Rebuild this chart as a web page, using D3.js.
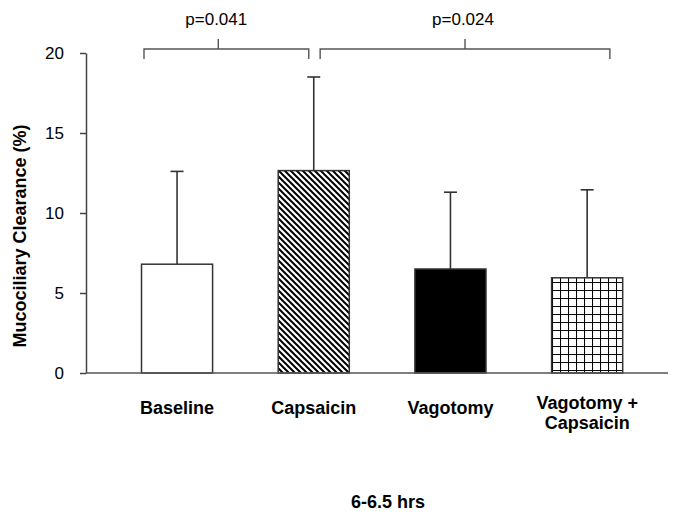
<!DOCTYPE html>
<html>
<head>
<meta charset="utf-8">
<script src="https://cdn.jsdelivr.net/npm/d3@7"></script>
<style>
  html, body { margin: 0; padding: 0; background: #fff; }
  svg { display: block; }
  text { font-family: Arial, "Liberation Sans", Helvetica, sans-serif; fill: #000; }
</style>
</head>
<body>
<svg id="chart" width="678" height="517"></svg>
<script>
// ---- data ----
const categories = ["Baseline", "Capsaicin", "Vagotomy", "Vagotomy + Capsaicin"];
const categoryLines = [["Baseline"], ["Capsaicin"], ["Vagotomy"], ["Vagotomy +", "Capsaicin"]];
const means = [6.8, 12.65, 6.5, 5.95];
const sds = [5.8, 5.85, 4.8, 5.5];
const fills = ["white", "url(#diag)", "black", "url(#grid)"];
const yTicks = [0, 5, 10, 15, 20];
const yLabel = "Mucociliary Clearance (%)";
const xLabel = "6-6.5 hrs";
const brackets = [
  { from: ["Baseline", 0.035], to: ["Capsaicin", 0.43], mid: ["Baseline", 1.08], label: "p=0.041" },
  { from: ["Capsaicin", 0.59], to: ["Vagotomy + Capsaicin", 0.82], mid: null, label: "p=0.024" }
];

// ---- layout ----
const svg = d3.select("#chart");
const axisX = 86, plotRight = 668, yTop = 53, yBottom = 373;

const x = d3.scaleBand().domain(categories).range([108.7, 655.5]).paddingInner(0.48).paddingOuter(0.24);
const y = d3.scaleLinear().domain([0, 20]).range([yBottom, yTop]);

const defs = svg.append("defs");
const diag = defs.append("pattern").attr("id", "diag").attr("patternUnits", "userSpaceOnUse")
  .attr("width", 6).attr("height", 6);
diag.append("rect").attr("width", 6).attr("height", 6).attr("fill", "white");
diag.append("path").attr("d", "M0,0 L6,6 M-1,5 L1,7 M5,-1 L7,1")
  .attr("stroke", "black").attr("stroke-width", 2);

const grid = defs.append("pattern").attr("id", "grid").attr("patternUnits", "userSpaceOnUse")
  .attr("width", 8).attr("height", 8).attr("x", 0).attr("y", 2);
grid.append("rect").attr("width", 8).attr("height", 8).attr("fill", "white");
grid.append("path").attr("d", "M0.5,0 V8 M0,0.5 H8")
  .attr("stroke", "black").attr("stroke-width", 1.1);

// y axis
const yAxis = d3.axisLeft(y).tickValues(yTicks).tickSize(6).tickSizeOuter(0).tickPadding(16);
const ya = svg.append("g").attr("transform", `translate(${axisX},0)`).call(yAxis);
ya.select(".domain").attr("stroke", "#444").attr("stroke-width", 1.5);
ya.selectAll(".tick line").attr("stroke", "#444").attr("stroke-width", 1.5);
ya.selectAll(".tick text").attr("font-size", 17).attr("fill", "#000")
  .attr("font-family", "Arial, 'Liberation Sans', sans-serif");

// bars
const data = categories.map((c, i) => ({ c, m: means[i], sd: sds[i], fill: fills[i] }));

svg.append("g").selectAll("line").data(data).join("line")
  .attr("x1", d => x(d.c) + x.bandwidth() / 2).attr("x2", d => x(d.c) + x.bandwidth() / 2)
  .attr("y1", d => y(d.m)).attr("y2", d => y(d.m + d.sd))
  .attr("stroke", "#333").attr("stroke-width", 1.6);
svg.append("g").selectAll("line").data(data).join("line")
  .attr("x1", d => x(d.c) + x.bandwidth() / 2 - 6.5).attr("x2", d => x(d.c) + x.bandwidth() / 2 + 6.5)
  .attr("y1", d => y(d.m + d.sd)).attr("y2", d => y(d.m + d.sd))
  .attr("stroke", "#333").attr("stroke-width", 1.6);

svg.append("g").selectAll("rect").data(data).join("rect")
  .attr("x", d => x(d.c)).attr("width", x.bandwidth())
  .attr("y", d => y(d.m)).attr("height", d => y(0) - y(d.m))
  .attr("fill", d => d.fill).attr("stroke", "#333").attr("stroke-width", 1.5);

// x axis line
svg.append("line").attr("x1", axisX).attr("x2", plotRight).attr("y1", y(0)).attr("y2", y(0))
  .attr("stroke", "#555").attr("stroke-width", 1.5);

// category labels
const cl = svg.append("g").selectAll("text").data(categories).join("text")
  .attr("text-anchor", "middle").attr("font-size", 18).attr("font-weight", "bold")
  .attr("transform", (c, i) => {
    const n = categoryLines[i].length;
    return `translate(${x(c) + x.bandwidth() / 2},${n > 1 ? 409 : 414})`;
  });
cl.selectAll("tspan").data((c, i) => categoryLines[i]).join("tspan")
  .attr("x", 0).attr("dy", (d, j) => j === 0 ? 0 : 20).text(d => d);

// brackets
const bx = p => x(p[0]) + p[1] * x.bandwidth();
const bY = 49, bEnd = 59, bTick = 39;
brackets.forEach(b => {
  const x1 = bx(b.from), x2 = bx(b.to);
  const xm = b.mid ? bx(b.mid) : (x1 + x2) / 2;
  svg.append("path")
    .attr("d", `M${x1},${bEnd} V${bY} H${x2} V${bEnd} M${xm},${bY} V${bTick}`)
    .attr("fill", "none").attr("stroke", "#555").attr("stroke-width", 1.4);
  svg.append("text").attr("x", xm - 2).attr("y", 25).attr("text-anchor", "middle")
    .attr("font-size", 17).text(b.label);
});

// axis titles
svg.append("text").attr("transform", "translate(26,236) rotate(-90)")
  .attr("text-anchor", "middle").attr("font-size", 18).attr("font-weight", "bold").text(yLabel);
svg.append("text").attr("x", 388).attr("y", 508).attr("text-anchor", "middle")
  .attr("font-size", 18).attr("font-weight", "bold").text(xLabel);
</script>
</body>
</html>
